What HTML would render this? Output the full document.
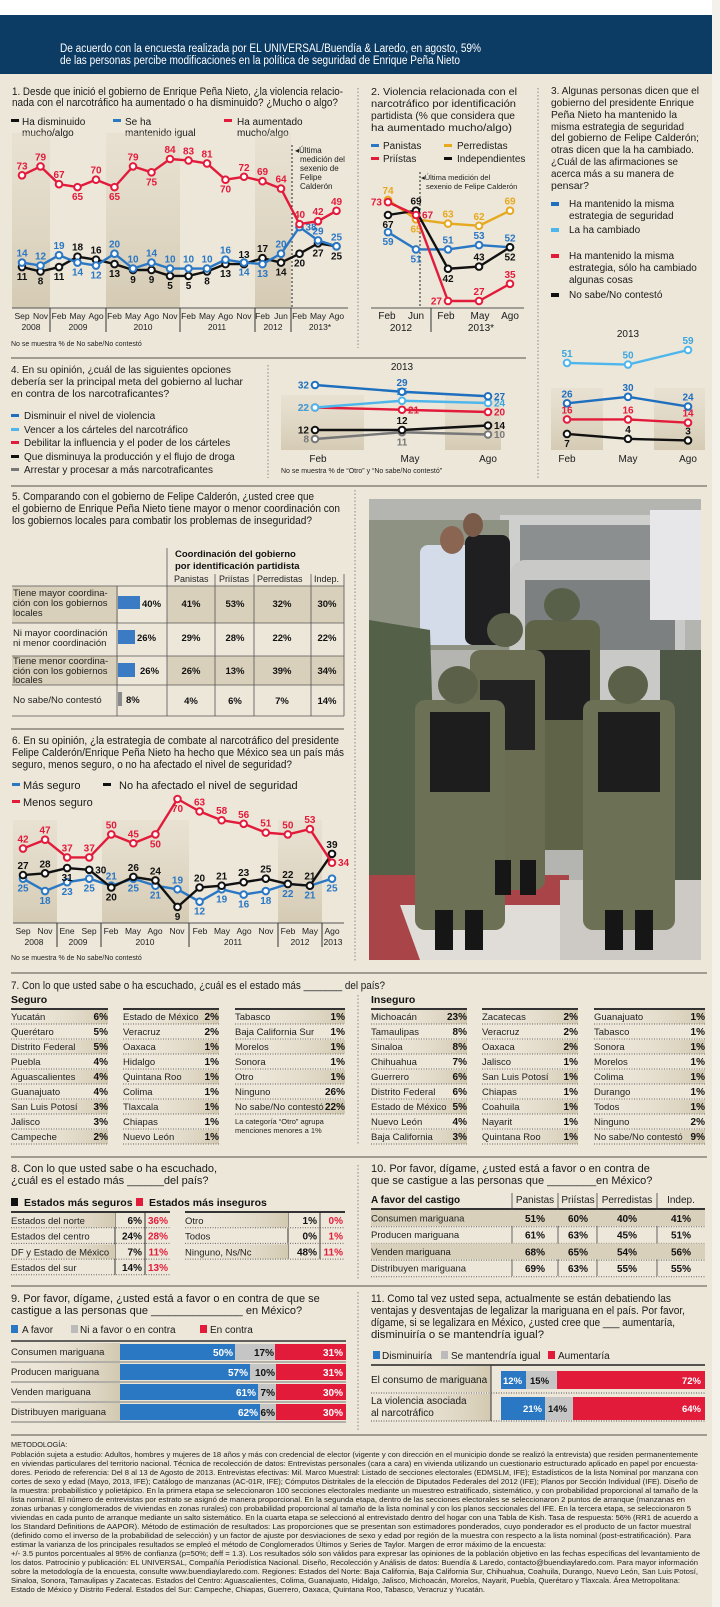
<!DOCTYPE html>
<html><head><meta charset="utf-8"><style>
html,body{margin:0;padding:0;background:#ede7da;}
svg{display:block;font-family:"Liberation Sans",sans-serif;}
.t{font-size:11px;fill:#1a1a1a}
.s{font-size:10px;fill:#1a1a1a}
.x{font-size:8.5px;fill:#222}
.b{font-weight:bold}
.m{font-size:7.3px;fill:#222}
.q3{font-size:10.5px;fill:#1a1a1a}
</style></head><body>
<svg id="S" width="720" height="1607" viewBox="0 0 720 1607" xmlns="http://www.w3.org/2000/svg">
<defs>
<linearGradient id="gr" x1="0" x2="1" y1="0" y2="0"><stop offset="0" stop-color="#ede7da" stop-opacity="0"/><stop offset="1" stop-color="#d3c9b1"/></linearGradient>
<linearGradient id="gv" x1="0" x2="0" y1="0" y2="1"><stop offset="0" stop-color="#ddd4c0" stop-opacity="0.3"/><stop offset="1" stop-color="#d5cbb4"/></linearGradient>
</defs>
<rect x="0" y="0" width="720" height="1607" fill="#ede7da"/>
<rect x="0" y="0" width="720" height="15" fill="#fff"/>
<rect x="0" y="15" width="717" height="59" fill="#0c3b63"/>
<rect x="712" y="0" width="8" height="1607" fill="#f4f1ea"/>
<text x="60" y="52" font-size="11.5" fill="#fff" textLength="421" lengthAdjust="spacingAndGlyphs">De acuerdo con la encuesta realizada por EL UNIVERSAL/Buendía &amp; Laredo, en agosto, 59%</text>
<text x="60" y="64" font-size="11.5" fill="#fff" textLength="400" lengthAdjust="spacingAndGlyphs">de las personas percibe modificaciones en la política de seguridad de Enrique Peña Nieto</text>

<!-- Q1 -->
<text class="t" x="12" y="95" textLength="331" lengthAdjust="spacingAndGlyphs">1. Desde que inició el gobierno de Enrique Peña Nieto, ¿la violencia relacio-</text>
<text class="t" x="12" y="106" textLength="326" lengthAdjust="spacingAndGlyphs">nada con el narcotráfico ha aumentado o ha disminuido? ¿Mucho o algo?</text>
<rect x="11" y="119" width="8" height="3" fill="#111"/><text class="s" x="22" y="125">Ha disminuido</text><text class="s" x="22" y="136">mucho/algo</text>
<rect x="113" y="119" width="8" height="3" fill="#2a77c4"/><text class="s" x="125" y="125">Se ha</text><text class="s" x="125" y="136">mantenido igual</text>
<rect x="224" y="119" width="8" height="3" fill="#e31b3b"/><text class="s" x="237" y="125">Ha aumentado</text><text class="s" x="237" y="136">mucho/algo</text>
<rect x="12" y="133" width="38" height="175" fill="url(#gv)"/>
<rect x="106" y="133" width="74" height="175" fill="url(#gv)"/>
<rect x="255" y="133" width="36" height="175" fill="url(#gv)"/>
<line x1="292" y1="145" x2="292" y2="308" stroke="#222" stroke-dasharray="2,2"/>
<text x="295" y="153" font-size="8" fill="#222">◂Última</text>
<text x="300" y="162" font-size="8" fill="#222">medición del</text>
<text x="300" y="171" font-size="8" fill="#222">sexenio de</text>
<text x="300" y="180" font-size="8" fill="#222">Felipe</text>
<text x="300" y="189" font-size="8" fill="#222">Calderón</text>
<line x1="12" y1="308" x2="348" y2="308" stroke="#555"/>
<g stroke="#333"><line x1="50" y1="308" x2="50" y2="332"/><line x1="106" y1="308" x2="106" y2="332"/><line x1="180" y1="308" x2="180" y2="332"/><line x1="255" y1="308" x2="255" y2="332"/><line x1="291" y1="308" x2="291" y2="332"/></g>
<g class="x" text-anchor="middle">
<text x="22" y="319">Sep</text><text x="40.5" y="319">Nov</text><text x="59" y="319">Feb</text><text x="77.5" y="319">May</text><text x="96" y="319">Ago</text><text x="114.5" y="319">Feb</text><text x="133" y="319">May</text><text x="151.5" y="319">Ago</text><text x="170" y="319">Nov</text><text x="188.5" y="319">Feb</text><text x="207" y="319">May</text><text x="225.5" y="319">Ago</text><text x="244" y="319">Nov</text><text x="262.5" y="319">Feb</text><text x="281" y="319">Jun</text><text x="299.5" y="319">Feb</text><text x="318" y="319">May</text><text x="336.5" y="319">Ago</text>
<text x="31" y="330">2008</text><text x="78" y="330">2009</text><text x="143" y="330">2010</text><text x="217" y="330">2011</text><text x="273" y="330">2012</text><text x="320" y="330">2013*</text>
</g>
<text x="11" y="346" font-size="7" fill="#222">No se muestra % de No sabe/No contestó</text>
<g id="c1"></g>

<line x1="358" y1="88" x2="358" y2="348" stroke="#888" stroke-dasharray="1.5,2"/>
<line x1="538" y1="88" x2="538" y2="480" stroke="#888" stroke-dasharray="1.5,2"/>

<!-- Q2 -->
<text class="q3" x="371" y="95" textLength="146" lengthAdjust="spacingAndGlyphs">2. Violencia relacionada con el</text>
<text class="q3" x="371" y="107" textLength="145" lengthAdjust="spacingAndGlyphs">narcotráfico por identificación</text>
<text class="q3" x="371" y="119" textLength="144" lengthAdjust="spacingAndGlyphs">partidista (% que considera que</text>
<text class="q3" x="371" y="131" textLength="141" lengthAdjust="spacingAndGlyphs">ha aumentado mucho/algo)</text>
<rect x="371" y="144" width="8" height="3" fill="#2a77c4"/><text class="s" x="383" y="149">Panistas</text>
<rect x="444" y="144" width="8" height="3" fill="#e6a91f"/><text class="s" x="457" y="149">Perredistas</text>
<rect x="371" y="157" width="8" height="3" fill="#e31b3b"/><text class="s" x="383" y="162">Priístas</text>
<rect x="444" y="157" width="8" height="3" fill="#111"/><text class="s" x="457" y="162">Independientes</text>
<line x1="420" y1="172" x2="420" y2="308" stroke="#222" stroke-dasharray="2,2"/>
<text x="421" y="180" font-size="7.5" fill="#222">◂Última medición del</text>
<text x="426" y="189" font-size="7.5" fill="#222">sexenio de Felipe Calderón</text>
<line x1="371" y1="308" x2="524" y2="308" stroke="#555"/>
<line x1="431" y1="308" x2="431" y2="332" stroke="#333"/>
<g class="s" text-anchor="middle"><text x="387" y="319">Feb</text><text x="416" y="319">Jun</text><text x="446" y="319">Feb</text><text x="480" y="319">May</text><text x="510" y="319">Ago</text><text x="401" y="331">2012</text><text x="481" y="331">2013*</text></g>
<g id="c2"></g>

<!-- Q3 -->
<g class="q3" lengthAdjust="spacingAndGlyphs"><text x="551" y="94" textLength="148" lengthAdjust="spacingAndGlyphs">3. Algunas personas dicen que el</text><text x="551" y="106" textLength="143" lengthAdjust="spacingAndGlyphs">gobierno del presidente Enrique</text><text x="551" y="118" textLength="126" lengthAdjust="spacingAndGlyphs">Peña Nieto ha mantenido la</text><text x="551" y="130" textLength="133" lengthAdjust="spacingAndGlyphs">misma estrategia de seguridad</text><text x="551" y="141" textLength="148" lengthAdjust="spacingAndGlyphs">del gobierno de Felipe Calderón;</text><text x="551" y="153" textLength="143" lengthAdjust="spacingAndGlyphs">otras dicen que la ha cambiado.</text><text x="551" y="165" textLength="127" lengthAdjust="spacingAndGlyphs">¿Cuál de las afirmaciones se</text><text x="551" y="177" textLength="123" lengthAdjust="spacingAndGlyphs">acerca más a su manera de</text><text x="551" y="189">pensar?</text></g>
<rect x="551" y="202" width="8" height="4" fill="#1f6fbf"/><text class="s" x="569" y="207">Ha mantenido la misma</text><text class="s" x="569" y="219">estrategia de seguridad</text>
<rect x="551" y="228" width="8" height="4" fill="#4fb6ec"/><text class="s" x="569" y="233">La ha cambiado</text>
<rect x="551" y="254" width="8" height="4" fill="#e31b3b"/><text class="s" x="569" y="259">Ha mantenido la misma</text><text class="s" x="569" y="271">estrategia, sólo ha cambiado</text><text class="s" x="569" y="283">algunas cosas</text>
<rect x="551" y="293" width="8" height="4" fill="#111"/><text class="s" x="569" y="298">No sabe/No contestó</text>
<text class="s" x="628" y="337" text-anchor="middle">2013</text>
<rect x="551" y="388" width="52" height="62" fill="url(#gv)"/>
<rect x="654" y="388" width="51" height="62" fill="url(#gv)"/>
<g class="s" text-anchor="middle"><text x="567" y="462">Feb</text><text x="628" y="462">May</text><text x="688" y="462">Ago</text></g>
<g id="c3"></g>

<line x1="11" y1="358" x2="526" y2="358" stroke="#8a8478" stroke-width="1.5"/>
<!-- Q4 -->
<g font-size="10.5" fill="#1a1a1a"><text x="11" y="373" textLength="220" lengthAdjust="spacingAndGlyphs">4. En su opinión, ¿cuál de las siguientes opciones</text><text x="11" y="385" textLength="232" lengthAdjust="spacingAndGlyphs">debería ser la principal meta del gobierno al luchar</text><text x="11" y="397">en contra de los narcotraficantes?</text></g>
<rect x="11" y="414" width="8" height="3" fill="#1f6fbf"/><text class="s" x="24" y="419">Disminuir el nivel de violencia</text>
<rect x="11" y="428" width="8" height="3" fill="#4fb6ec"/><text class="s" x="24" y="433">Vencer a los cárteles del narcotráfico</text>
<rect x="11" y="441" width="8" height="3" fill="#e31b3b"/><text class="s" x="24" y="446">Debilitar la influencia y el poder de los cárteles</text>
<rect x="11" y="455" width="8" height="3" fill="#111"/><text class="s" x="24" y="460">Que disminuya la producción y el flujo de droga</text>
<rect x="11" y="468" width="8" height="3" fill="#777"/><text class="s" x="24" y="473">Arrestar y procesar a más narcotraficantes</text>
<line x1="268" y1="365" x2="268" y2="478" stroke="#888" stroke-dasharray="1.5,2"/>
<text class="s" x="402" y="370" text-anchor="middle">2013</text>
<rect x="281" y="395" width="83" height="55" fill="url(#gv)"/>
<rect x="445" y="395" width="56" height="55" fill="url(#gv)"/>
<g class="s" text-anchor="middle"><text x="318" y="462">Feb</text><text x="410" y="462">May</text><text x="488" y="462">Ago</text></g>
<text x="281" y="473" font-size="7" fill="#222">No se muestra % de “Otro” y “No sabe/No contestó”</text>
<g id="c4"></g>

<line x1="11" y1="486" x2="707" y2="486" stroke="#8a8478" stroke-width="1.5"/>

<!-- Q5 -->
<g font-size="11" fill="#1a1a1a"><text x="12" y="500" textLength="302" lengthAdjust="spacingAndGlyphs">5. Comparando con el gobierno de Felipe Calderón, ¿usted cree que</text><text x="12" y="512" textLength="328" lengthAdjust="spacingAndGlyphs">el gobierno de Enrique Peña Nieto tiene mayor o menor coordinación con</text><text x="12" y="524" textLength="300" lengthAdjust="spacingAndGlyphs">los gobiernos locales para combatir los problemas de inseguridad?</text></g>
<text x="175" y="557" font-size="9.5" font-weight="bold" fill="#111">Coordinación del gobierno</text>
<text x="175" y="569" font-size="9.5" font-weight="bold" fill="#111">por identificación partidista</text>
<g font-size="9" fill="#222"><text x="174" y="582">Panistas</text><text x="219" y="582">Priístas</text><text x="257" y="582">Perredistas</text><text x="314" y="582">Indep.</text></g>
<rect x="12" y="586" width="332" height="37" fill="#d9d0bb"/>
<rect x="12" y="656" width="332" height="29" fill="#d9d0bb"/>
<rect x="118" y="586" width="49" height="37" fill="#ede7da"/>
<rect x="118" y="656" width="49" height="29" fill="#ede7da"/>
<g stroke="#555" stroke-width="0.8"><line x1="12" y1="586" x2="344" y2="586"/><line x1="12" y1="623" x2="344" y2="623"/><line x1="12" y1="656" x2="344" y2="656"/><line x1="12" y1="685" x2="344" y2="685"/><line x1="12" y1="716" x2="344" y2="716"/>
<line x1="117" y1="586" x2="117" y2="716"/><line x1="167" y1="548" x2="167" y2="716"/><line x1="215" y1="574" x2="215" y2="716"/><line x1="254" y1="574" x2="254" y2="716"/><line x1="311" y1="574" x2="311" y2="716"/><line x1="344" y1="574" x2="344" y2="716"/></g>
<g font-size="9.5" fill="#222"><text x="13" y="596">Tiene mayor coordina-</text><text x="13" y="606">ción con los gobiernos</text><text x="13" y="616">locales</text><text x="13" y="636">Ni mayor coordinación</text><text x="13" y="646">ni menor coordinación</text><text x="13" y="664">Tiene menor coordina-</text><text x="13" y="674">ción con los gobiernos</text><text x="13" y="683">locales</text><text x="13" y="703">No sabe/No contestó</text></g>
<rect x="118" y="596" width="22" height="13" fill="#3a7bc4"/><rect x="118" y="630" width="17" height="14" fill="#3a7bc4"/><rect x="118" y="663" width="17" height="14" fill="#3a7bc4"/><rect x="118" y="692" width="4" height="14" fill="#8a8a8a"/>
<g font-size="9.5" font-weight="bold" fill="#111"><text x="142" y="607">40%</text><text x="137" y="641">26%</text><text x="140" y="674">26%</text><text x="126" y="703">8%</text></g>
<g font-size="9.5" font-weight="bold" fill="#111" text-anchor="middle">
<text x="191" y="607">41%</text><text x="235" y="607">53%</text><text x="282" y="607">32%</text><text x="327" y="607">30%</text>
<text x="191" y="641">29%</text><text x="235" y="641">28%</text><text x="282" y="641">22%</text><text x="327" y="641">22%</text>
<text x="191" y="674">26%</text><text x="235" y="674">13%</text><text x="282" y="674">39%</text><text x="327" y="674">34%</text>
<text x="191" y="704">4%</text><text x="235" y="704">6%</text><text x="282" y="704">7%</text><text x="327" y="704">14%</text></g>
<line x1="355" y1="490" x2="355" y2="962" stroke="#888" stroke-dasharray="1.5,2"/>

<!-- photo -->
<g>
<rect x="369" y="499" width="332" height="461" fill="#b4b5b0"/>
<rect x="500" y="515" width="180" height="110" fill="#cfd0cd"/>
<rect x="520" y="525" width="140" height="50" fill="#8c8f8f"/>
<rect x="510" y="560" width="175" height="200" rx="15" fill="#c9cac8"/>
<rect x="525" y="580" width="150" height="70" fill="#7c8080"/>
<rect x="650" y="510" width="51" height="110" fill="#e7e7ea"/>
<rect x="369" y="520" width="140" height="130" fill="#8d9283"/>
<rect x="420" y="545" width="60" height="100" rx="8" fill="#d4dcea"/>
<ellipse cx="452" cy="540" rx="12" ry="14" fill="#8a6652"/>
<rect x="465" y="535" width="45" height="110" rx="8" fill="#1f1f22"/>
<ellipse cx="473" cy="525" rx="10" ry="12" fill="#7a5a48"/>
<polygon points="369,620 430,630 440,960 369,960" fill="#556049"/>
<rect x="660" y="650" width="41" height="300" fill="#4e5645"/>
<rect x="369" y="875" width="200" height="85" fill="#a94548"/>
<polygon points="400,905 560,905 600,960 420,960" fill="#e0dcd8"/>
<rect x="560" y="880" width="141" height="80" fill="#cdc9c4"/>
<rect x="525" y="620" width="75" height="230" rx="10" fill="#5f6449"/>
<rect x="535" y="650" width="55" height="70" fill="#1f1f20"/>
<ellipse cx="562" cy="605" rx="18" ry="17" fill="#59604a"/>
<rect x="470" y="650" width="75" height="240" rx="10" fill="#6a6d52"/>
<rect x="480" y="680" width="55" height="70" fill="#222"/>
<ellipse cx="505" cy="630" rx="18" ry="17" fill="#5a6049"/>
<rect x="415" y="700" width="90" height="230" rx="10" fill="#6c7055"/>
<rect x="430" y="712" width="60" height="80" fill="#1d1d1e"/>
<ellipse cx="458" cy="685" rx="20" ry="19" fill="#5b6149"/>
<rect x="583" y="700" width="92" height="230" rx="10" fill="#6c7055"/>
<rect x="598" y="712" width="62" height="80" fill="#1d1d1e"/>
<ellipse cx="628" cy="685" rx="20" ry="19" fill="#5b6149"/>
<rect x="435" y="910" width="18" height="40" fill="#161616"/><rect x="465" y="910" width="18" height="40" fill="#161616"/>
<rect x="605" y="910" width="18" height="40" fill="#161616"/><rect x="635" y="910" width="18" height="40" fill="#161616"/>
<rect x="495" y="860" width="16" height="35" fill="#161616"/><rect x="520" y="860" width="16" height="35" fill="#161616"/>
</g>

<!-- Q6 -->
<line x1="11" y1="729" x2="344" y2="729" stroke="#8a8478" stroke-width="1.5"/>
<g font-size="11" fill="#1a1a1a"><text x="12" y="744" textLength="327" lengthAdjust="spacingAndGlyphs">6. En su opinión, ¿la estrategia de combate al narcotráfico del presidente</text><text x="12" y="756" textLength="332" lengthAdjust="spacingAndGlyphs">Felipe Calderón/Enrique Peña Nieto ha hecho que México sea un país más</text><text x="12" y="768" textLength="280" lengthAdjust="spacingAndGlyphs">seguro, menos seguro, o no ha afectado el nivel de seguridad?</text></g>
<rect x="12" y="783" width="8" height="3" fill="#2a77c4"/><text class="t" x="23" y="789">Más seguro</text>
<rect x="103" y="783" width="8" height="3" fill="#111"/><text class="t" x="119" y="789">No ha afectado el nivel de seguridad</text>
<rect x="12" y="800" width="8" height="3" fill="#e31b3b"/><text class="t" x="23" y="806">Menos seguro</text>
<rect x="13" y="820" width="44" height="103" fill="url(#gv)"/>
<rect x="102" y="820" width="87" height="103" fill="url(#gv)"/>
<rect x="278" y="820" width="44" height="103" fill="url(#gv)"/>
<line x1="13" y1="923" x2="344" y2="923" stroke="#555"/>
<g stroke="#333"><line x1="57" y1="923" x2="57" y2="947"/><line x1="101" y1="923" x2="101" y2="947"/><line x1="189" y1="923" x2="189" y2="947"/><line x1="278" y1="923" x2="278" y2="947"/><line x1="322" y1="923" x2="322" y2="947"/></g>
<g class="x" text-anchor="middle">
<text x="23" y="934">Sep</text><text x="45" y="934">Nov</text><text x="67" y="934">Ene</text><text x="89" y="934">Sep</text><text x="111" y="934">Feb</text><text x="133" y="934">May</text><text x="155" y="934">Ago</text><text x="177" y="934">Nov</text><text x="200" y="934">Feb</text><text x="222" y="934">May</text><text x="244" y="934">Ago</text><text x="266" y="934">Nov</text><text x="288" y="934">Feb</text><text x="310" y="934">May</text><text x="332" y="934">Ago</text>
<text x="34" y="945">2008</text><text x="78" y="945">2009</text><text x="145" y="945">2010</text><text x="233" y="945">2011</text><text x="300" y="945">2012</text><text x="333" y="945">2013</text></g>
<text x="11" y="960" font-size="7" fill="#222">No se muestra % de No sabe/No contestó</text>
<g id="c6"></g>

<line x1="11" y1="973" x2="707" y2="973" stroke="#8a8478" stroke-width="1.5"/>
<!-- Q7 -->
<text class="t" x="11" y="989" textLength="374" lengthAdjust="spacingAndGlyphs">7. Con lo que usted sabe o ha escuchado, ¿cuál es el estado más _______ del país?</text>
<text x="11" y="1003" font-size="10.5" font-weight="bold" fill="#111">Seguro</text>
<text x="371" y="1003" font-size="10.5" font-weight="bold" fill="#111">Inseguro</text>
<line x1="358" y1="995" x2="358" y2="1145" stroke="#888" stroke-dasharray="1.5,2"/>
<g id="t7"></g>
<text x="235" y="1124" font-size="7.5" fill="#222">La categoría “Otro” agrupa</text>
<text x="235" y="1133" font-size="7.5" fill="#222">menciones menores a 1%</text>

<line x1="11" y1="1157" x2="707" y2="1157" stroke="#8a8478" stroke-width="1.5"/>
<!-- Q8 -->
<text class="t" x="11" y="1172">8. Con lo que usted sabe o ha escuchado,</text>
<text class="t" x="11" y="1184">¿cuál es el estado más ______del país?</text>
<rect x="11" y="1198" width="7" height="8" fill="#111"/><text x="24" y="1206" font-size="10.5" font-weight="bold" fill="#111">Estados más seguros</text>
<rect x="136" y="1198" width="7" height="8" fill="#e31b3b"/><text x="149" y="1206" font-size="10.5" font-weight="bold" fill="#111">Estados más inseguros</text>
<g id="t8"></g>
<line x1="358" y1="1165" x2="358" y2="1280" stroke="#888" stroke-dasharray="1.5,2"/>
<!-- Q10 -->
<text class="t" x="371" y="1172">10. Por favor, dígame, ¿usted está a favor o en contra de</text>
<text class="t" x="371" y="1184">que se castigue a las personas que ________en México?</text>
<g id="t10"></g>

<line x1="11" y1="1286" x2="707" y2="1286" stroke="#8a8478" stroke-width="1.5"/>
<!-- Q9 -->
<text class="t" x="11" y="1302">9. Por favor, dígame, ¿usted está a favor o en contra de que se</text>
<text class="t" x="11" y="1314">castigue a las personas que _______________ en México?</text>
<rect x="11" y="1325" width="7" height="8" fill="#2a77c4"/><text class="s" x="22" y="1333">A favor</text>
<rect x="71" y="1325" width="7" height="8" fill="#bbb"/><text class="s" x="80" y="1333">Ni a favor o en contra</text>
<rect x="200" y="1325" width="7" height="8" fill="#e31b3b"/><text class="s" x="210" y="1333">En contra</text>
<g id="t9"></g>
<line x1="358" y1="1292" x2="358" y2="1430" stroke="#888" stroke-dasharray="1.5,2"/>
<!-- Q11 -->
<g font-size="11" fill="#1a1a1a"><text x="371" y="1302" textLength="300" lengthAdjust="spacingAndGlyphs">11. Como tal vez usted sepa, actualmente se están debatiendo las</text><text x="371" y="1314" textLength="314" lengthAdjust="spacingAndGlyphs">ventajas y desventajas de legalizar la mariguana en el país. Por favor,</text><text x="371" y="1326" textLength="304" lengthAdjust="spacingAndGlyphs">dígame, si se legalizara en México, ¿usted cree que ___ aumentaría,</text><text x="371" y="1338" textLength="173" lengthAdjust="spacingAndGlyphs">disminuiría o se mantendría igual?</text></g>
<rect x="373" y="1351" width="7" height="8" fill="#2a77c4"/><text class="s" x="382" y="1359">Disminuiría</text>
<rect x="441" y="1351" width="7" height="8" fill="#bbb"/><text class="s" x="451" y="1359">Se mantendría igual</text>
<rect x="548" y="1351" width="7" height="8" fill="#e31b3b"/><text class="s" x="558" y="1359">Aumentaría</text>
<rect x="371" y="1366" width="120" height="26" fill="url(#gr)"/>
<rect x="371" y="1394" width="120" height="27" fill="url(#gr)"/>
<line x1="371" y1="1365" x2="705" y2="1365" stroke="#222" stroke-width="1.5"/>
<line x1="371" y1="1393" x2="705" y2="1393" stroke="#555" stroke-dasharray="1,1.5"/>
<line x1="371" y1="1421" x2="705" y2="1421" stroke="#555" stroke-dasharray="1,1.5"/>
<line x1="491" y1="1365" x2="491" y2="1421" stroke="#333"/>
<text class="s" x="371" y="1383">El consumo de mariguana</text>
<text class="s" x="371" y="1404">La violencia asociada</text><text class="s" x="371" y="1416">al narcotráfico</text>
<rect x="501" y="1371" width="25" height="18" fill="#2a77c4"/><rect x="526" y="1371" width="31" height="18" fill="#c5c5c5"/><rect x="557" y="1371" width="148" height="18" fill="#e31b3b"/>
<rect x="501" y="1397" width="44" height="23" fill="#2a77c4"/><rect x="545" y="1397" width="28" height="23" fill="#c5c5c5"/><rect x="573" y="1397" width="132" height="23" fill="#e31b3b"/>
<g font-size="9.5" font-weight="bold"><text x="503" y="1384" fill="#fff">12%</text><text x="530" y="1384" fill="#111">15%</text><text x="701" y="1384" fill="#fff" text-anchor="end">72%</text>
<text x="542" y="1412" fill="#fff" text-anchor="end">21%</text><text x="548" y="1412" fill="#111">14%</text><text x="701" y="1412" fill="#fff" text-anchor="end">64%</text></g>

<line x1="11" y1="1435" x2="707" y2="1435" stroke="#8a8478" stroke-width="1.5"/>
<text class="m" x="11" y="1447">METODOLOGÍA:</text>
<g class="m">
<text x="11" y="1457" textLength="687" lengthAdjust="spacingAndGlyphs">Población sujeta a estudio: Adultos, hombres y mujeres de 18 años y más con credencial de elector (vigente y con dirección en el municipio donde se realizó la entrevista) que residen permanentemente</text>
<text x="11" y="1466" textLength="687" lengthAdjust="spacingAndGlyphs">en viviendas particulares del territorio nacional. Técnica de recolección de datos: Entrevistas personales (cara a cara) en vivienda utilizando un cuestionario estructurado aplicado en papel por encuesta-</text>
<text x="11" y="1475" textLength="687" lengthAdjust="spacingAndGlyphs">dores. Periodo de referencia: Del 8 al 13 de Agosto de 2013. Entrevistas efectivas: Mil. Marco Muestral: Listado de secciones electorales (EDMSLM, IFE); Estadísticos de la lista Nominal por manzana con</text>
<text x="11" y="1484" textLength="687" lengthAdjust="spacingAndGlyphs">cortes de sexo y edad (Mayo, 2013, IFE); Catálogo de manzanas (AC-01R, IFE); Cómputos Distritales de la elección de Diputados Federales del 2012 (IFE); Planos por Sección Individual (IFE). Diseño de</text>
<text x="11" y="1493" textLength="687" lengthAdjust="spacingAndGlyphs">la muestra: probabilístico y polietápico. En la primera etapa se seleccionaron 100 secciones electorales mediante un muestreo estratificado, sistemático, y con probabilidad proporcional al tamaño de la</text>
<text x="11" y="1502" textLength="674" lengthAdjust="spacingAndGlyphs">lista nominal. El número de entrevistas por estrato se asignó de manera proporcional. En la segunda etapa, dentro de las secciones electorales se seleccionaron 2 puntos de arranque (manzanas en</text>
<text x="11" y="1511" textLength="680" lengthAdjust="spacingAndGlyphs">zonas urbanas y conglomerados de viviendas en zonas rurales) con probabilidad proporcional al tamaño de la lista nominal y con los planos seccionales del IFE. En la tercera etapa, se seleccionaron 5</text>
<text x="11" y="1520" textLength="687" lengthAdjust="spacingAndGlyphs">viviendas en cada punto de arranque mediante un salto sistemático. En la cuarta etapa se seleccionó al entrevistado dentro del hogar con una Tabla de Kish. Tasa de respuesta: 56% (RR1 de acuerdo a</text>
<text x="11" y="1529" textLength="680" lengthAdjust="spacingAndGlyphs">los Standard Definitions de AAPOR). Método de estimación de resultados: Las proporciones que se presentan son estimadores ponderados, cuyo ponderador es el producto de un factor muestral</text>
<text x="11" y="1538" textLength="680" lengthAdjust="spacingAndGlyphs">(definido como el inverso de la probabilidad de selección) y un factor de ajuste por desviaciones de sexo y edad por región de la muestra con respecto a la lista nominal (post-estratificación). Para</text>
<text x="11" y="1547" textLength="535" lengthAdjust="spacingAndGlyphs">estimar la varianza de los principales resultados se empleó el método de Conglomerados Últimos y Series de Taylor. Margen de error máximo de la encuesta:</text>
<text x="11" y="1556" textLength="689" lengthAdjust="spacingAndGlyphs">+/- 3.5 puntos porcentuales al 95% de confianza (p=50%; deff = 1.3). Los resultados sólo son válidos para expresar las opiniones de la población objetivo en las fechas específicas del levantamiento de</text>
<text x="11" y="1565" textLength="687" lengthAdjust="spacingAndGlyphs">los datos. Patrocinio y publicación: EL UNIVERSAL, Compañía Periodística Nacional. Diseño, Recolección y Análisis de datos: Buendía &amp; Laredo, contacto@buendiaylaredo.com. Para mayor información</text>
<text x="11" y="1574" textLength="687" lengthAdjust="spacingAndGlyphs">sobre la metodología de la encuesta, consulte www.buendiaylaredo.com. Regiones: Estados del Norte: Baja California, Baja California Sur, Chihuahua, Coahuila, Durango, Nuevo León, San Luis Potosí,</text>
<text x="11" y="1583" textLength="669" lengthAdjust="spacingAndGlyphs">Sinaloa, Sonora, Tamaulipas y Zacatecas. Estados del Centro: Aguascalientes, Colima, Guanajuato, Hidalgo, Jalisco, Michoacán, Morelos, Nayarit, Puebla, Querétaro y Tlaxcala. Área Metropolitana:</text>
<text x="11" y="1592" textLength="474" lengthAdjust="spacingAndGlyphs">Estado de México y Distrito Federal. Estados del Sur: Campeche, Chiapas, Guerrero, Oaxaca, Quintana Roo, Tabasco, Veracruz y Yucatán.</text>
</g>
</svg>
<script>
const NS='http://www.w3.org/2000/svg';
function E(tag,a,p,t){const e=document.createElementNS(NS,tag);for(const k in a)e.setAttribute(k,a[k]);if(t!==undefined)e.textContent=t;p.appendChild(e);return e;}
const R='#e31b3b',B='#2a77c4',LB='#4fb6ec',K='#111',Y='#e6a91f',G='#777',DB='#1f6fbf';
function ser(g,xs,vals,yf,col,pos,fs){
  const pts=vals.map((v,i)=>[xs[i],yf(v)]);
  E('polyline',{points:pts.map(p=>p.join(',')).join(' '),fill:'none',stroke:col,'stroke-width':2.4,'stroke-linejoin':'round'},g);
  pts.forEach((p,i)=>{E('circle',{cx:p[0],cy:p[1],r:3.3,fill:'#fff',stroke:col,'stroke-width':2},g);});
  pts.forEach((p,i)=>{
    const c=pos[i]||'a';let x=p[0],y=p[1],an='middle';
    if(c=='a')y-=6;else if(c=='b')y+=13;else if(c=='l'){x-=6;y+=3.5;an='end';}else{x+=6;y+=3.5;an='start';}
    E('text',{x:x,y:y,'text-anchor':an,'font-size':fs||10,'font-weight':'bold',fill:col==LB?'#3aa6e0':col},g,String(vals[i]));
  });
}
(function(){const g=document.getElementById('c1');const xs=[...Array(18)].map((_,i)=>22+i*18.5);const yf=v=>159+(84-v)*1.48;
ser(g,xs,[11,8,11,18,16,13,9,9,5,5,8,13,13,17,14,20,27,25],yf,K,'bbbaabbbbbbbaabbbb'.split(''));
ser(g,xs,[14,12,19,14,12,20,10,14,10,10,10,16,14,13,20,38,29,25],yf,B,'aaabbaaaaaaabbaraa'.split(''));
ser(g,xs,[73,79,67,65,70,65,79,75,84,83,81,70,72,69,64,40,42,49],yf,R,'aaabababaaabaaaaaa'.split(''));})();
(function(){const g=document.getElementById('c2');const xs=[388,416,448,479,510];const yf=v=>301-(v-27)*2.15;
ser(g,xs,[59,51,51,53,52],yf,B,'bbaaa'.split(''));
ser(g,xs,[74,65,63,62,69],yf,Y,'abaaa'.split(''));
ser(g,xs,[67,69,42,43,52],yf,K,'babab'.split(''));
ser(g,xs,[73,67,27,27,35],yf,R,'lrlaa'.split(''));})();
(function(){const g=document.getElementById('c3');const xs=[567,628,688];const yf=v=>350+(59-v)*1.615;
ser(g,xs,[51,50,59],yf,LB,'aaa'.split(''));ser(g,xs,[26,30,24],yf,DB,'aaa'.split(''));
ser(g,xs,[16,16,14],yf,R,'aaa'.split(''));ser(g,xs,[7,4,3],yf,K,'baa'.split(''));})();
(function(){const g=document.getElementById('c4');const xs=[315,402,488];const yf=v=>385+(32-v)*2.25;
ser(g,xs,[8,11,10],yf,G,'lbr'.split(''));ser(g,xs,[12,12,14],yf,K,'lar'.split(''));
ser(g,xs,[22,21,20],yf,R,'lrr'.split(''));ser(g,xs,[22,25,24],yf,LB,'lar'.split(''));
ser(g,xs,[32,29,27],yf,DB,'lar'.split(''));})();
(function(){const g=document.getElementById('c6');const xs=[...Array(15)].map((_,i)=>23+i*22.07);const yf=v=>799+(70-v)*1.77;
ser(g,xs,[25,18,23,25,21,25,21,19,12,19,16,18,22,21,25],yf,B,'bbbbabbabbbbbbb'.split(''));
ser(g,xs,[27,28,31,30,20,26,24,9,20,21,23,25,22,21,39],yf,K,'aabrbaabaaaaaaa'.split(''));
ser(g,xs,[42,47,37,37,50,45,50,70,63,58,56,51,50,53,34],yf,R,'aaaaaabbaaaaaar'.split(''));})();
(function(){const g=document.getElementById('t7');
const cols=[[11,108,[['Yucatán',6],['Querétaro',5],['Distrito Federal',5],['Puebla',4],['Aguascalientes',4],['Guanajuato',4],['San Luis Potosí',3],['Jalisco',3],['Campeche',2]]],
[123,219,[['Estado de México',2],['Veracruz',2],['Oaxaca',1],['Hidalgo',1],['Quintana Roo',1],['Colima',1],['Tlaxcala',1],['Chiapas',1],['Nuevo León',1]]],
[235,345,[['Tabasco',1],['Baja California Sur',1],['Morelos',1],['Sonora',1],['Otro',1],['Ninguno',26],['No sabe/No contestó',22]]],
[371,467,[['Michoacán',23],['Tamaulipas',8],['Sinaloa',8],['Chihuahua',7],['Guerrero',6],['Distrito Federal',6],['Estado de México',5],['Nuevo León',4],['Baja California',3]]],
[482,578,[['Zacatecas',2],['Veracruz',2],['Oaxaca',2],['Jalisco',1],['San Luis Potosí',1],['Chiapas',1],['Coahuila',1],['Nayarit',1],['Quintana Roo',1]]],
[594,705,[['Guanajuato',1],['Tabasco',1],['Sonora',1],['Morelos',1],['Colima',1],['Durango',1],['Todos',1],['Ninguno',2],['No sabe/No contestó',9]]]];
cols.forEach(([x0,x1,rows])=>{
 E('line',{x1:x0,y1:1009,x2:x1,y2:1009,stroke:'#333','stroke-width':2},g);
 rows.forEach((r,i)=>{const y=1009+15*i;
  if(i%2==0)E('rect',{x:x0,y:y+1,width:x1-x0,height:14,fill:'url(#gr)'},g);
  E('line',{x1:x0,y1:y+15,x2:x1,y2:y+15,stroke:'#666','stroke-dasharray':'1,1.5'},g);
  E('text',{x:x0,y:y+11,'font-size':9.5,fill:'#222'},g,r[0]);
  E('text',{x:x1,y:y+11,'font-size':10,'font-weight':'bold',fill:'#111','text-anchor':'end'},g,r[1]+'%');});});})();
(function(){const g=document.getElementById('t8');
function tb(x0,xa,xb,x1,rows){E('line',{x1:x0,y1:1212,x2:x1,y2:1212,stroke:'#333','stroke-width':2},g);
 E('line',{x1:xa,y1:1212,x2:xa,y2:1212+rows.length*15.7,stroke:'#333'},g);E('line',{x1:xb,y1:1212,x2:xb,y2:1212+rows.length*15.7,stroke:'#333'},g);
 rows.forEach((r,i)=>{const y=1212+15.7*i;if(i%2==0)E('rect',{x:x0,y:y+1,width:xa-x0,height:14.5,fill:'url(#gr)'},g);
 E('line',{x1:x0,y1:y+15.7,x2:x1,y2:y+15.7,stroke:'#666','stroke-dasharray':'1,1.5'},g);
 E('text',{x:x0,y:y+12,'font-size':9.5,fill:'#222'},g,r[0]);
 E('text',{x:xb-3,y:y+12,'font-size':10,'font-weight':'bold',fill:'#111','text-anchor':'end'},g,r[1]+'%');
 E('text',{x:x1-2,y:y+12,'font-size':10,'font-weight':'bold',fill:'#e31b3b','text-anchor':'end'},g,r[2]+'%');});}
tb(11,115,145,170,[['Estados del norte',6,36],['Estados del centro',24,28],['DF y Estado de México',7,11],['Estados del sur',14,13]]);
tb(185,288,320,345,[['Otro',1,0],['Todos',0,1],['Ninguno, Ns/Nc',48,11]]);})();
(function(){const g=document.getElementById('t10');
E('text',{x:371,y:1203,'font-size':10,'font-weight':'bold',fill:'#111'},g,'A favor del castigo');
[['Panistas',535],['Priístas',578],['Perredistas',627],['Indep.',681]].forEach(h=>E('text',{x:h[1],y:1203,'font-size':10,fill:'#222','text-anchor':'middle'},g,h[0]));
E('line',{x1:371,y1:1209,x2:705,y2:1209,stroke:'#333','stroke-width':2},g);
[512,558,597,657].forEach(x=>E('line',{x1:x,y1:1193,x2:x,y2:1276,stroke:'#444','stroke-width':0.8},g));
const rows=[['Consumen mariguana',51,60,40,41],['Producen mariguana',61,63,45,51],['Venden mariguana',68,65,54,56],['Distribuyen mariguana',69,63,55,55]];
const cx=[535,578,627,681];
rows.forEach((r,i)=>{const y=1210+16.7*i;if(i%2==0)E('rect',{x:371,y:y,width:334,height:16,fill:'#d9d0bb'},g);
E('line',{x1:371,y1:y+16.7,x2:705,y2:y+16.7,stroke:'#666','stroke-dasharray':'1,1.5'},g);
E('text',{x:371,y:y+11.5,'font-size':9.5,fill:'#222'},g,r[0]);
for(let j=0;j<4;j++)E('text',{x:cx[j],y:y+12,'font-size':10,'font-weight':'bold',fill:'#111','text-anchor':'middle'},g,r[j+1]+'%');});})();
(function(){const g=document.getElementById('t9');
E('line',{x1:11,y1:1341,x2:346,y2:1341,stroke:'#333','stroke-width':1.5},g);
const rows=[['Consumen mariguana',50,17,31,235,275],['Producen mariguana',57,10,31,250,276],['Venden mariguana',61,7,30,258,276],['Distribuyen mariguana',62,6,30,260,276]];
rows.forEach((r,i)=>{const y=1343+20*i;
E('rect',{x:11,y:y,width:109,height:18,fill:'url(#gr)'},g);
E('line',{x1:11,y1:y+19,x2:346,y2:y+19,stroke:'#777'},g);
E('text',{x:11,y:y+12,'font-size':9.5,fill:'#222'},g,r[0]);
E('rect',{x:120,y:y+1,width:r[4]-120,height:16,fill:'#2a77c4'},g);
E('rect',{x:r[4],y:y+1,width:r[5]-r[4],height:16,fill:'#c5c5c5'},g);
E('rect',{x:r[5],y:y+1,width:346-r[5],height:16,fill:'#e31b3b'},g);
E('text',{x:r[4]-2,y:y+13,'font-size':10,'font-weight':'bold',fill:'#fff','text-anchor':'end'},g,r[1]+'%');
E('text',{x:r[5]-1,y:y+13,'font-size':10,'font-weight':'bold',fill:'#111','text-anchor':'end'},g,r[2]+'%');
E('text',{x:343,y:y+13,'font-size':10,'font-weight':'bold',fill:'#fff','text-anchor':'end'},g,r[3]+'%');});})();
</script>
</body></html>
